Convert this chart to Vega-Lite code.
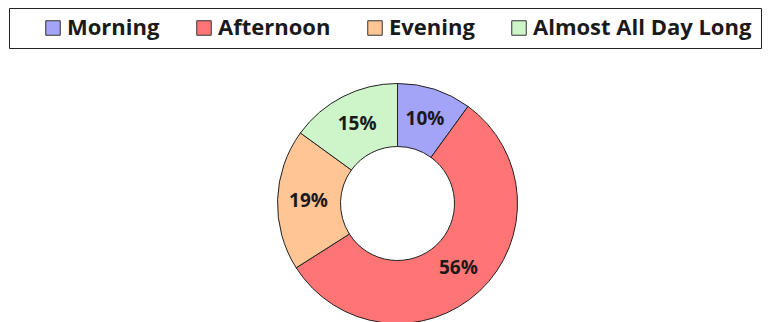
{
  "$schema": "https://vega.github.io/schema/vega-lite/v6.json",
  "width": 745,
  "height": 237,
  "autosize": "none",
  "padding": {"left": 25, "top": 85, "right": 0, "bottom": 0},
  "background": "white",
  "config": {"view": {"stroke": null}},
  "data": {
    "values": [
      {"period": "Morning", "value": 10, "label": "10%", "idx": 1},
      {"period": "Afternoon", "value": 56, "label": "56%", "idx": 2},
      {"period": "Evening", "value": 19, "label": "19%", "idx": 3},
      {"period": "Almost All Day Long", "value": 15, "label": "15%", "idx": 4}
    ]
  },
  "encoding": {
    "theta": {"field": "value", "type": "quantitative", "stack": true},
    "order": {"field": "idx", "type": "quantitative"},
    "color": {
      "field": "period",
      "type": "nominal",
      "sort": ["Morning", "Afternoon", "Evening", "Almost All Day Long"],
      "scale": {
        "domain": ["Morning", "Afternoon", "Evening", "Almost All Day Long"],
        "range": ["#A3A3F7", "#FF7575", "#FFC594", "#CDF5C9"]
      },
      "legend": {
        "orient": "none",
        "legendX": -16,
        "legendY": -77,
        "direction": "horizontal",
        "title": "\u00a0",
        "titleOrient": "left",
        "titlePadding": 24,
        "titleFont": "Open Sans",
        "titleFontSize": 22,
        "strokeColor": "#222222",
        "fillColor": "white",
        "padding": 9,
        "symbolType": "square",
        "symbolSize": 210,
        "symbolStrokeColor": "#333333",
        "symbolStrokeWidth": 1,
        "symbolOpacity": 1,
        "labelFont": "Open Sans",
        "labelFontWeight": "bold",
        "labelFontSize": 22,
        "labelColor": "#1a1a1a",
        "labelOffset": 3,
        "labelLimit": 400,
        "columnPadding": 33
      }
    }
  },
  "layer": [
    {
      "mark": {"type": "arc", "radius": 120, "radius2": 57, "stroke": "#222222", "strokeWidth": 1, "opacity": 1}
    },
    {
      "mark": {"type": "text", "radius": 89, "font": "Open Sans", "fontWeight": "bold", "fontSize": 19, "fill": "#1a1a1a"},
      "encoding": {
        "text": {"field": "label", "type": "nominal"},
        "color": {"value": "#1a1a1a"}
      }
    }
  ]
}
